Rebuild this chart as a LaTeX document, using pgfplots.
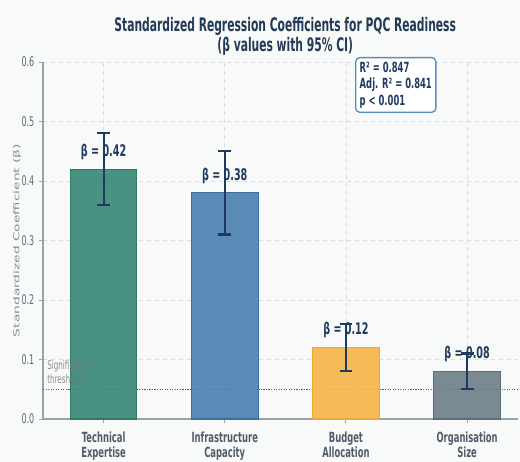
\documentclass[border=0pt]{standalone}
\usepackage{fontspec}
\setmainfont{DejaVu Sans}[FakeStretch=0.6]
\newfontfamily\titlefont{DejaVu Sans}[FakeStretch=0.575]
\newfontfamily\ylabfont{DejaVu Sans}[FakeStretch=1.667]
\usepackage{pgfplots}
\pgfplotsset{compat=1.18}
\usepackage{pgfplotstable}
\usetikzlibrary{backgrounds}

\definecolor{navy}{HTML}{1F3A5F}
\definecolor{titlecol}{HTML}{243B55}
\definecolor{bgcol}{HTML}{F8F9F9}
\definecolor{gridcol}{HTML}{D9DDE0}
\definecolor{spinecol}{HTML}{9AA3AA}
\definecolor{tickcol}{HTML}{5F6B75}
\definecolor{xlabcol}{HTML}{4F5D6B}
\definecolor{ylabcol}{HTML}{858E95}
\definecolor{techfill}{HTML}{3B8A77}
\definecolor{techedge}{HTML}{2F7A68}
\definecolor{infrafill}{HTML}{4E83B2}
\definecolor{infraedge}{HTML}{3D6F9D}
\definecolor{budgfill}{HTML}{F6B64A}
\definecolor{budgedge}{HTML}{F0A830}
\definecolor{orgfill}{HTML}{6F818B}
\definecolor{orgedge}{HTML}{5A6D78}
\definecolor{boxedge}{HTML}{5B8DB8}

% standardized coefficients and half-widths of the 95% CI
\pgfplotstableread{
x b e
0 0.42 0.06
1 0.38 0.07
2 0.12 0.04
3 0.08 0.03
}\coef

\begin{document}
\begin{tikzpicture}
\begin{axis}[
  scale only axis,
  width=356.25pt, height=267.75pt,
  xmin=-0.5, xmax=3.42,
  ymin=0, ymax=0.6,
  /pgf/number format/assume math mode=true,
  axis x line*=bottom, axis y line*=left,
  axis line style={draw=spinecol, line width=0.8pt, -},
  tick align=outside,
  major tick length=3pt,
  tick style={draw=spinecol, line width=0.7pt},
  xtick={0,1,2,3},
  xticklabels={Technical\\Expertise, Infrastructure\\Capacity, Budget\\Allocation, Organisation\\Size},
  xticklabel style={align=center, font=\bfseries\fontsize{10.5}{11.3}\selectfont, text=xlabcol, yshift=-3pt},
  ytick={0,0.1,...,0.6},
  yticklabel style={font=\fontsize{10}{11}\selectfont, text=tickcol,
    /pgf/number format/.cd, fixed, fixed zerofill, precision=1},
  xmajorgrids, ymajorgrids,
  major grid style={dashed, draw=gridcol, line width=0.5pt},
  ylabel={Standardized Coefficient (β)},
  every axis y label/.style={at={(axis description cs:-0.0547,0.5)}, rotate=90, anchor=center,
    font=\ylabfont\fontsize{6.2}{7}\selectfont, text=ylabcol},
  title={Standardized Regression Coefficients for PQC Readiness\\(β values with 95\% CI)},
  title style={align=center, font=\titlefont\bfseries\fontsize{14}{12.5}\selectfont, text=titlecol,
    at={(axis description cs:0.51,1)}, anchor=south, yshift=-4.5pt},
  clip=false,
]
% significance threshold
\addplot[densely dotted, line width=0.9pt, color=black!65] coordinates {(-0.5,0.05) (3.42,0.05)};

% coefficient bars
\addplot[ybar, bar width=0.55, bar shift=0pt, fill=techfill, fill opacity=0.92, draw=techedge, line width=0.8pt] coordinates {(0,0.42)};
\addplot[ybar, bar width=0.55, bar shift=0pt, fill=infrafill, fill opacity=0.92, draw=infraedge, line width=0.8pt] coordinates {(1,0.38)};
\addplot[ybar, bar width=0.55, bar shift=0pt, fill=budgfill, fill opacity=0.92, draw=budgedge, line width=0.8pt] coordinates {(2,0.12)};
\addplot[ybar, bar width=0.55, bar shift=0pt, fill=orgfill, fill opacity=0.92, draw=orgedge, line width=0.8pt] coordinates {(3,0.08)};

% value labels
\addplot[draw=none, mark=none, point meta=y,
  nodes near coords={β = \pgfmathprintnumber[fixed, fixed zerofill, precision=2]{\pgfplotspointmeta}},
  every node near coord/.append style={anchor=center, yshift=13pt,
    font=\bfseries\fontsize{12}{14}\selectfont, text=navy}]
  table[x=x, y=b] {\coef};

% 95% confidence intervals
\addplot[draw=none, mark=none,
  error bars/.cd, y dir=both, y explicit,
  error bar style={draw=navy, line width=1.6pt},
  error mark=|, error mark options={draw=navy, line width=1.6pt, mark size=4.8pt}]
  table[x=x, y=b, y error=e] {\coef};

\node[anchor=north west, align=left, font=\fontsize{9}{10.5}\selectfont, text=black!55, text opacity=0.8, inner sep=0pt]
  at (axis cs:-0.467,0.099) {Significance\\threshold};

\node[anchor=north west, draw=boxedge, line width=1pt, rounded corners=3pt, fill=white,
  align=left, font=\bfseries\fontsize{10.5}{12.5}\selectfont, text=navy, inner sep=3pt]
  at (rel axis cs:0.657,1.014) {R² = 0.847\\Adj. R² = 0.841\\p < 0.001};
\end{axis}
\pgfresetboundingbox
\path (current axis.south west) ++(-32.25pt,-32.25pt) rectangle ([shift={(1.5pt,46.5pt)}]current axis.north east);
\begin{scope}[on background layer]
\fill[bgcol] (current axis.south west) ++(-32.25pt,-32.25pt) rectangle ([shift={(1.5pt,46.5pt)}]current axis.north east);
\end{scope}
\end{tikzpicture}
\end{document}
